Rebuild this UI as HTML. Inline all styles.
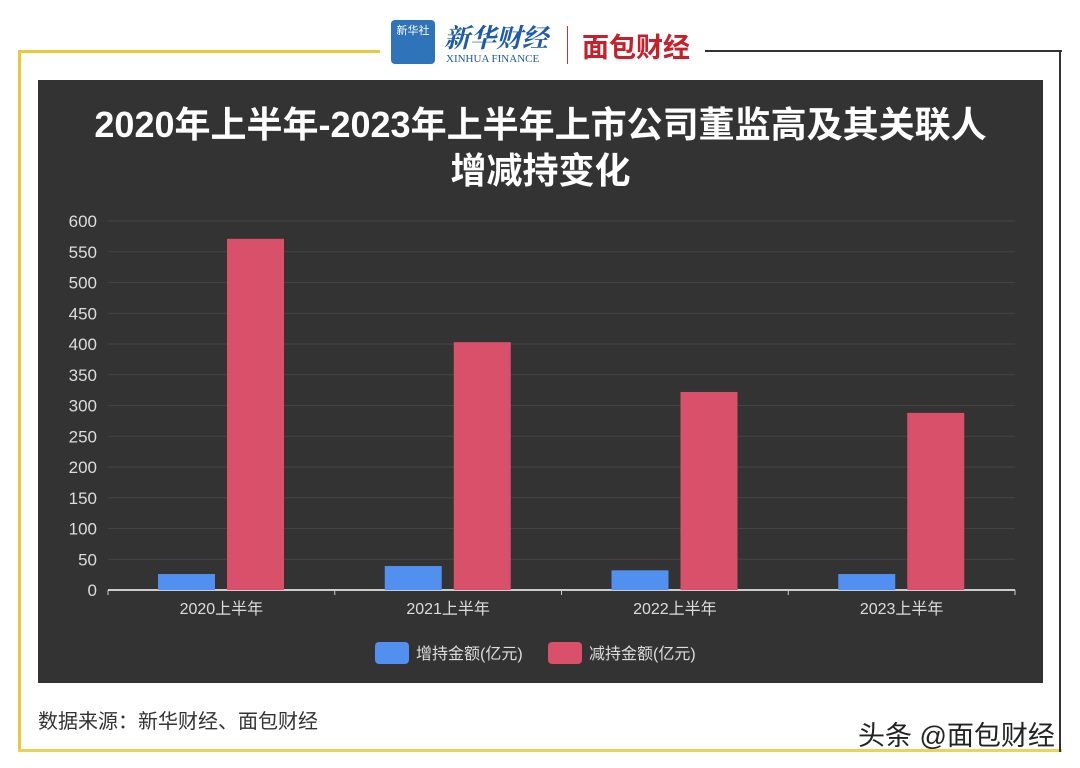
<!DOCTYPE html>
<html><head><meta charset="utf-8"><style>
body{margin:0;width:1080px;height:768px;background:#fff;position:relative;overflow:hidden;font-family:"Liberation Sans","Noto Sans CJK SC",sans-serif}
.abs{position:absolute}
</style></head><body>
<div class="abs" style="left:18px;top:50px;width:362px;height:3px;background:#e8c93a"></div>
<div class="abs" style="left:18px;top:50px;width:3px;height:702px;background:#e8c93a"></div>
<div class="abs" style="left:18px;top:749px;width:1044px;height:3px;background:#e8d45a"></div>
<div class="abs" style="left:705px;top:50px;width:357px;height:2px;background:#333"></div>
<div class="abs" style="left:1059px;top:50px;width:2px;height:702px;background:#333"></div>
<div class="abs" style="left:391px;top:20px;width:44px;height:44px;background:#2f74b8;border-radius:4px;color:#fff;font-size:11px;text-align:center;line-height:22px">新华社</div>
<div class="abs" style="left:444px;top:18px;color:#1d5aa8;font-size:26px;font-style:italic;font-weight:bold;font-family:'Noto Serif CJK SC',serif">新华财经</div>
<div class="abs" style="left:446px;top:53px;color:#1d5aa8;font-size:11px;font-family:'Liberation Serif',serif">XINHUA FINANCE</div>
<div class="abs" style="left:567px;top:26px;width:1px;height:38px;background:#c33"></div>
<div class="abs" style="left:582px;top:26px;color:#c8202a;font-size:27px;font-weight:bold">面包财经</div>
<div class="abs" style="left:38px;top:80px;width:1005px;height:603px;background:#333333"></div>
<div class="abs" style="left:38px;top:102px;width:1005px;text-align:center;color:#fff;font-size:36px;font-weight:bold;line-height:46px">2020年上半年-2023年上半年上市公司董监高及其关联人<br>增减持变化</div>
<svg class="abs" style="left:0;top:0" width="1080" height="768" id="chart"></svg>
<div class="abs" style="left:38px;top:705px;color:#333;font-size:20px">数据来源：新华财经、面包财经</div>
<div class="abs" style="left:858px;top:714px;color:#222;font-size:27px">头条 @面包财经</div>
<script>
const categories=["2020上半年","2021上半年","2022上半年","2023上半年"];
const increaseValues=[26,39,32,26];
const decreaseValues=[571,403,322,288];
const yTicks=[0,50,100,150,200,250,300,350,400,450,500,550,600];
const seriesNames=["增持金额(亿元)","减持金额(亿元)"];
const svg=document.getElementById('chart');const NS='http://www.w3.org/2000/svg';
const x0=108,x1=1015,y0=590,y1=221,yMax=600;
const y=v=>y0-(v/yMax)*(y0-y1);
const bw=(x1-x0)/categories.length;
function el(t,a){const e=document.createElementNS(NS,t);for(const k in a)e.setAttribute(k,a[k]);svg.appendChild(e);return e;}
yTicks.forEach(t=>{
 if(t>0){const g=el('line',{x1:x0,x2:x1,y1:y(t),y2:y(t),stroke:'#444','stroke-width':1});
 
 }
 const l=el('text',{x:97,y:y(t)+6,'text-anchor':'end',fill:'#ddd','font-size':17});
 l.textContent=t;
 
 
});
const ax=el('line',{x1:x0,x2:x1,y1:y0,y2:y0,stroke:'#ccc','stroke-width':2});


for(let i=0;i<=categories.length;i++){const tk=el('line',{x1:x0+i*bw,x2:x0+i*bw,y1:y0,y2:y0+5,stroke:'#ccc'});

}
categories.forEach((c,i)=>{
 const cx=x0+i*bw;
 const b1=el('rect',{x:cx+50,y:y(increaseValues[i]),width:57,height:y0-y(increaseValues[i]),fill:'#5190ef'});
 
 
 const b2=el('rect',{x:cx+119,y:y(decreaseValues[i]),width:57,height:y0-y(decreaseValues[i]),fill:'#d8506a'});
 
 
 const t=el('text',{x:cx+bw/2,y:614,'text-anchor':'middle',fill:'#ddd','font-size':16});
 t.textContent=c;
 
 
});
const lx=[375,548],cols=['#5190ef','#d8506a'];
seriesNames.forEach((n,i)=>{
 const r=el('rect',{x:lx[i],y:642,width:34,height:22,rx:4,fill:cols[i]});
 
 
 const t=el('text',{x:lx[i]+41,y:659,fill:'#ddd','font-size':16});
 t.textContent=n;
 
 
});
</script>
</body></html>
